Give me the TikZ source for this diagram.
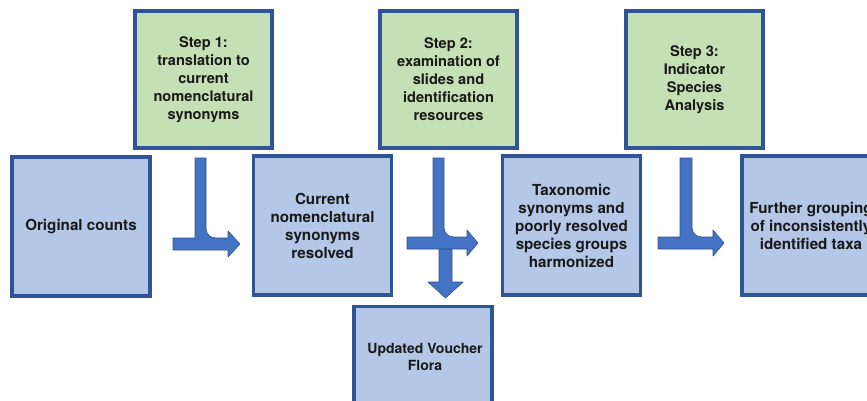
\documentclass[tikz,border=0pt]{standalone}
\usepackage{fontspec}
\setmainfont{TeX Gyre Heros}
\definecolor{boxblue}{HTML}{B4C7E7}
\definecolor{boxgreen}{HTML}{C5E0B4}
\definecolor{edge}{HTML}{2F5597}
\definecolor{arrfill}{HTML}{4472C4}
\definecolor{arredge}{HTML}{2F528F}
\newcommand{\bentarr}[7]{% vl vr ht hb hl headx tip
  \filldraw[arrshape] (#1,158) -- (#2,158) -- (#2,{#3-10})
    .. controls (#2,{#3-4}) and ({#2+4},#3) .. ({#2+10},#3)
    -- (#6,#3) -- (#6,{#3-7}) -- (#7,{(#3+#4)/2}) -- (#6,{#4+7}) -- (#6,#4)
    -- (#5,#4) -- (#5,#3) -- (#1,#3) -- cycle;}
\begin{document}
\begin{tikzpicture}[x=1pt,y=-1pt,
  every node/.style={font=\fontsize{14}{17.5}\selectfont\bfseries, text=black!90, align=center},
  steptext/.style={font=\fontsize{14.6}{18}\selectfont\bfseries},
  bigtext/.style={font=\fontsize{15.2}{18}\selectfont\bfseries},
  stepbox/.style={draw=edge, line width=3.2pt, fill=boxgreen, minimum width=137pt, minimum height=137pt, inner sep=0pt},
  resbox/.style={draw=edge, line width=3.2pt, fill=boxblue, minimum width=138pt, minimum height=139pt, inner sep=0pt},
  arrshape/.style={fill=arrfill, draw=arredge, line width=0.6pt, line join=round}]
\useasboundingbox (0,0) rectangle (867,401);
\clip (0,0) rectangle (867,401);
% step boxes
\node[stepbox,steptext] (s1) at (203.5,79.5) {Step 1:\\translation to\\current\\nomenclatural\\synonyms};
\node[stepbox,steptext] (s2) at (448.5,79.5) {Step 2:\\examination of\\slides and\\identification\\resources};
\node[stepbox,steptext] (s3) at (694.5,79.5) {Step 3:\\Indicator\\Species\\Analysis};
% result boxes
\node[resbox,bigtext] (r0) at (81,226.5) {Original counts};
\node[resbox,bigtext] (r1) at (322.5,225.5) {Current\\nomenclatural\\synonyms\\resolved};
\node[resbox,bigtext] (r2) at (571.5,225.5) {Taxonomic\\synonyms and\\poorly resolved\\species groups\\harmonized};
\node[resbox,bigtext] (r3) at (811,225.5) {Further grouping\\of inconsistently\\identified taxa};
\node[resbox] (uv) at (423,376) {};
\node (uvt) at (425,357) {Updated Voucher\\Flora};
% arrows
\bentarr{195}{206}{238}{250}{173}{228}{240}
\filldraw[arrshape] (439,249) -- (452,249) -- (452,282) -- (463,282) -- (445.5,298) -- (428,282) -- (439,282) -- cycle;
\bentarr{433}{444}{237}{249}{407}{467}{478}
\bentarr{680}{692}{237}{249}{658}{713}{724}
\end{tikzpicture}
\end{document}
